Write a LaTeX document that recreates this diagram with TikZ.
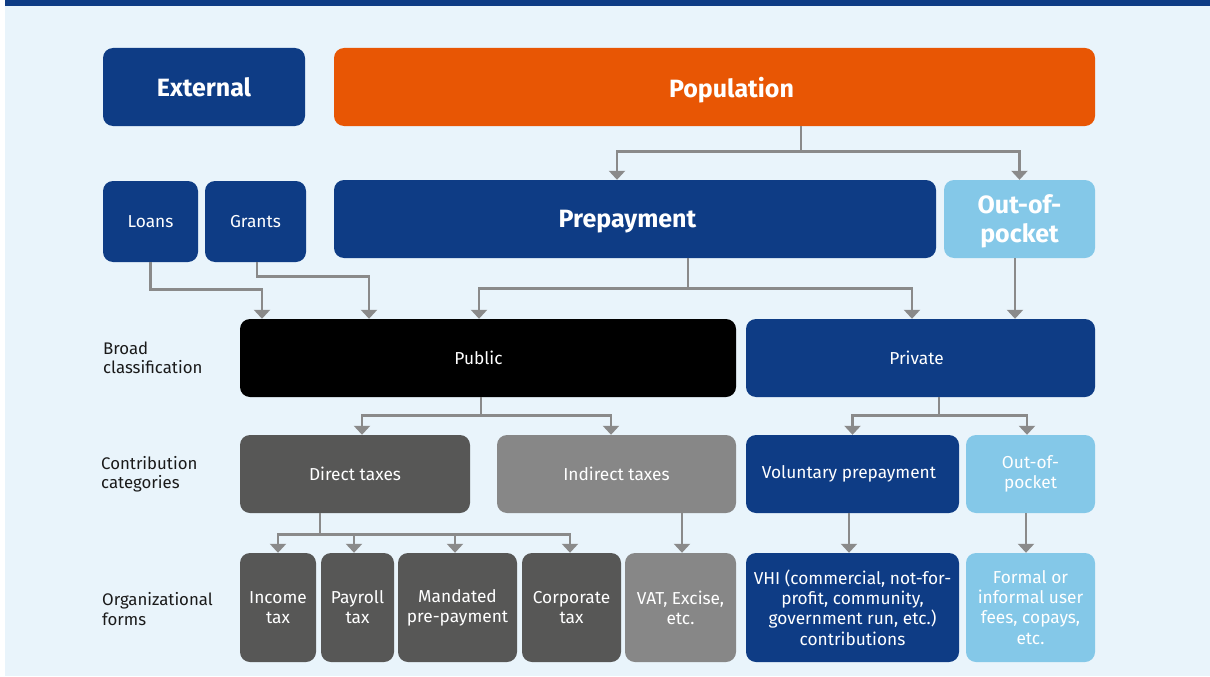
\documentclass[tikz,border=0pt]{standalone}
\usepackage{fontspec}
\setmainfont{Fira Sans}
\usetikzlibrary{arrows.meta}
\definecolor{dblue}{HTML}{0E3C85}
\definecolor{orng}{HTML}{E85604}
\definecolor{lblue}{HTML}{84C8E8}
\definecolor{dgray}{HTML}{575756}
\definecolor{mgray}{HTML}{878787}
\definecolor{agray}{HTML}{8A8A8A}
\definecolor{bg}{HTML}{E9F4FB}
\definecolor{lbltext}{HTML}{1A1A1A}
\begin{document}
\begin{tikzpicture}[x=1pt,y=-1pt,
  box/.style={rectangle, rounded corners=10pt, inner sep=0pt, text=white, align=center, font=\fontsize{17.3}{20.2}\selectfont},
  big/.style={box, text depth=0pt, font=\fontsize{25}{29}\selectfont\bfseries},
  arr/.style={draw=agray, line width=2.6pt, -{Triangle[width=16pt,length=9pt]}},
  lbl/.style={anchor=west, align=left, inner sep=0pt, text=lbltext, font=\fontsize{16.8}{19.5}\selectfont}]
\useasboundingbox (0,0) rectangle (1210,677);
\fill[white] (0,0) rectangle (1210,677);
\fill[bg] (5,6) rectangle (1210,676);
\fill[dblue] (5,0) rectangle (1210,6);

% row 1
\node[big, fill=dblue, minimum width=202pt, minimum height=78pt] (ext) at (204,87) {External};
\node[big, fill=orng, minimum width=761pt, minimum height=78pt] (pop) at (714.5,87) {\hspace*{34pt}Population};
% row 2
\node[box, fill=dblue, minimum width=95pt, minimum height=81pt] (loans) at (150.5,221.5) {Loans};
\node[box, fill=dblue, minimum width=101pt, minimum height=81pt] (grants) at (255.5,221.5) {Grants};
\node[big, fill=dblue, minimum width=602pt, minimum height=78pt] (prep) at (635,219) {Prepayment\hspace*{15pt}};
\node[big, fill=lblue, minimum width=151pt, minimum height=78pt] (oopa) at (1019.5,219) {Out-of-\\pocket};
% row 3
\node[box, fill=black, minimum width=496pt, minimum height=78pt] (public) at (488,358) {Public\hspace*{19pt}};
\node[box, fill=dblue, minimum width=349pt, minimum height=78pt] (private) at (920.5,358) {Private\hspace*{8pt}};
% row 4
\node[box, fill=dgray, minimum width=230pt, minimum height=78pt] (direct) at (355,474) {Direct taxes};
\node[box, fill=mgray, minimum width=239pt, minimum height=78pt] (indirect) at (616.5,474) {Indirect taxes};
\node[box, fill=dblue, minimum width=213pt, minimum height=78pt] (volunt) at (852.5,474) {Voluntary prepayment\hspace*{7pt}};
\node[box, fill=lblue, minimum width=129pt, minimum height=78pt] (oopb) at (1030.5,474) {Out-of-\\pocket};
% row 5
\node[box, fill=dgray, minimum width=76pt, minimum height=109pt] (income) at (278,607.5) {Income\\tax};
\node[box, fill=dgray, minimum width=73pt, minimum height=109pt] (payroll) at (357.5,607.5) {Payroll\\tax};
\node[box, fill=dgray, minimum width=119pt, minimum height=109pt] (mandated) at (457.5,607.5) {Mandated\\pre-payment};
\node[box, fill=dgray, minimum width=99pt, minimum height=109pt] (corporate) at (571.5,607.5) {Corporate\\tax};
\node[box, fill=mgray, minimum width=111pt, minimum height=109pt] (vat) at (680.5,607.5) {VAT, Excise,\\etc.};
\node[box, fill=dblue, minimum width=213pt, minimum height=109pt] (vhi) at (852.5,607.5) {VHI (commercial, not-for-\\profit, community,\\government run, etc.)\\contributions};
\node[box, fill=lblue, minimum width=129pt, minimum height=109pt] (formal) at (1030.5,607.5) {Formal or\\informal user\\fees, copays,\\etc.};

% labels
\node[lbl] (lb1) at (103,358) {Broad\\classification};
\node[lbl] (lb2) at (101,474) {Contribution\\categories};
\node[lbl] (lb3) at (102,609) {Organizational\\forms};

% connectors
\draw[arr] ([xshift=86.5pt]pop.south) -- ++(0,25) -| ([xshift=-18pt]prep.north);
\draw[arr] ([xshift=86.5pt]pop.south) -- ++(0,25) -| (oopa.north);
\draw[arr] (loans.south) -- ++(0,27) -| ([xshift=-226pt]public.north);
\draw[arr] ([xshift=1.5pt]grants.south) -- ++(0,14) -| ([xshift=-119pt]public.north);
\draw[arr] ([xshift=53pt]prep.south) -- ++(0,30) -| ([xshift=-9pt]public.north);
\draw[arr] ([xshift=53pt]prep.south) -- ++(0,30) -| ([xshift=-8.5pt]private.north);
\draw[arr] ([xshift=-4.5pt]oopa.south) -- ([xshift=94.5pt]private.north);
\draw[arr] ([xshift=-7pt]public.south) -- ++(0,18) -| ([xshift=7pt]direct.north);
\draw[arr] ([xshift=-7pt]public.south) -- ++(0,18) -| ([xshift=-5.5pt]indirect.north);
\draw[arr] ([xshift=18.5pt]private.south) -- ++(0,18) -| (volunt.north);
\draw[arr] ([xshift=18.5pt]private.south) -- ++(0,18) -| ([xshift=-3.5pt]oopb.north);
\draw[arr] ([xshift=-35pt]direct.south) -- ++(0,21) -| (income.north);
\draw[arr] ([xshift=-35pt]direct.south) -- ++(0,21) -| ([xshift=-3.5pt]payroll.north);
\draw[arr] ([xshift=-35pt]direct.south) -- ++(0,21) -| ([xshift=-2.5pt]mandated.north);
\draw[arr] ([xshift=-35pt]direct.south) -- ++(0,21) -| ([xshift=-1.5pt]corporate.north);
\draw[arr] ([xshift=65.5pt]indirect.south) -- ([xshift=1.5pt]vat.north);
\draw[arr] ([xshift=-3.5pt]volunt.south) -- ([xshift=-3.5pt]vhi.north);
\draw[arr] ([xshift=-4.5pt]oopb.south) -- ([xshift=-4.5pt]formal.north);
\end{tikzpicture}
\end{document}
